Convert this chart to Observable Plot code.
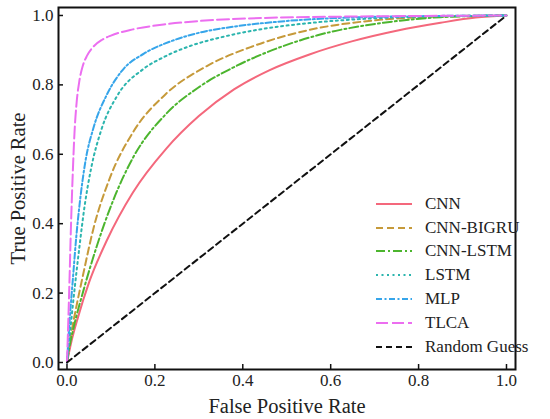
<!DOCTYPE html>
<html>
<head>
<meta charset="utf-8">
<script src="https://cdn.jsdelivr.net/npm/d3@7"></script>
<script src="https://cdn.jsdelivr.net/npm/@observablehq/plot@0.6"></script>
<style>
  html, body { margin: 0; padding: 0; background: #fff; }
  #wrap { position: relative; width: 550px; height: 419px; font-family: "Liberation Serif", "Times New Roman", serif; }
  #wrap svg, #wrap svg text { font-family: "Liberation Serif", "Times New Roman", serif !important; }
  #legend { position: absolute; left: 376px; top: 192px; width: 172px; font-size: 17px; color: #222; white-space: nowrap; }
  #legend .row { display: flex; align-items: center; height: 23.8px; }
  #legend svg { width: 37px; height: 10px; margin-right: 12px; flex: none; }
</style>
</head>
<body>
<div id="wrap"><div id="legend"></div></div>
<script>
// ---- Data ----
const seriesNames = ["CNN", "CNN-BIGRU", "CNN-LSTM", "LSTM", "MLP", "TLCA", "Random Guess"];

const cnnFpr = [0, 0.01, 0.025, 0.05, 0.09, 0.15, 0.225, 0.30, 0.38, 0.46, 0.55, 0.65, 0.75, 0.85, 0.93, 1];
const cnnTpr = [0, 0.06, 0.13, 0.23, 0.35, 0.49, 0.615, 0.71, 0.787, 0.842, 0.887, 0.926, 0.956, 0.979, 0.994, 1];

const bigruFpr = [0, 0.005, 0.012, 0.022, 0.037, 0.06, 0.097, 0.151, 0.226, 0.315, 0.42, 0.55, 0.7, 0.85, 1];
const bigruTpr = [0, 0.05, 0.10, 0.165, 0.255, 0.385, 0.53, 0.665, 0.775, 0.852, 0.91, 0.958, 0.986, 0.997, 1];

const cnnLstmFpr = [0, 0.005, 0.015, 0.038, 0.067, 0.105, 0.151, 0.226, 0.302, 0.386, 0.467, 0.57, 0.72, 0.85, 1];
const cnnLstmTpr = [0, 0.04, 0.10, 0.21, 0.332, 0.467, 0.592, 0.717, 0.795, 0.855, 0.9, 0.943, 0.979, 0.995, 1];

const lstmFpr = [0, 0.008, 0.018, 0.028, 0.04, 0.055, 0.078, 0.115, 0.173, 0.22, 0.28, 0.35, 0.43, 0.55, 0.7, 0.85, 1];
const lstmTpr = [0, 0.10, 0.22, 0.33, 0.45, 0.56, 0.67, 0.77, 0.845, 0.88, 0.912, 0.937, 0.958, 0.978, 0.992, 0.998, 1];

const mlpFpr = [0, 0.006, 0.014, 0.021, 0.03, 0.042, 0.06, 0.09, 0.128, 0.175, 0.235, 0.3, 0.38, 0.48, 0.6, 0.8, 1];
const mlpTpr = [0, 0.12, 0.25, 0.36, 0.47, 0.58, 0.675, 0.77, 0.845, 0.89, 0.925, 0.95, 0.968, 0.982, 0.992, 0.998, 1];

const tlcaFpr = [0, 0.003, 0.006, 0.009, 0.013, 0.017, 0.022, 0.028, 0.036, 0.046, 0.06, 0.08, 0.1, 0.15, 0.22, 0.3, 0.45, 0.65, 0.85, 1];
const tlcaTpr = [0, 0.12, 0.25, 0.39, 0.54, 0.66, 0.75, 0.81, 0.855, 0.885, 0.91, 0.93, 0.942, 0.96, 0.974, 0.984, 0.993, 0.997, 0.999, 1];

const randomFpr = [0, 1];
const randomTpr = [0, 1];

const xTicks = [0, 0.2, 0.4, 0.6, 0.8, 1.0];
const yTicks = [0, 0.2, 0.4, 0.6, 0.8, 1.0];

// ---- Styles ----
const styles = {
  "CNN":          {color: "#f4687c", dash: null},
  "CNN-BIGRU":    {color: "#c69a3a", dash: "7,4"},
  "CNN-LSTM":     {color: "#4cb52e", dash: "9,3,2,3"},
  "LSTM":         {color: "#2cb5ae", dash: "2,3.5"},
  "MLP":          {color: "#36a5ea", dash: "6,2.5,2,2.5"},
  "TLCA":         {color: "#ec6ef0", dash: "12,4"},
  "Random Guess": {color: "#111111", dash: "6,4"}
};

const pairs = [
  ["CNN", cnnFpr, cnnTpr],
  ["CNN-BIGRU", bigruFpr, bigruTpr],
  ["CNN-LSTM", cnnLstmFpr, cnnLstmTpr],
  ["LSTM", lstmFpr, lstmTpr],
  ["MLP", mlpFpr, mlpTpr],
  ["TLCA", tlcaFpr, tlcaTpr],
  ["Random Guess", randomFpr, randomTpr]
];

const lineMarks = pairs.map(([name, xs, ys]) => {
  const rows = xs.map((x, i) => ({x, y: ys[i]}));
  const s = styles[name];
  return Plot.line(rows, {
    x: "x", y: "y",
    stroke: s.color, strokeWidth: 2,
    strokeDasharray: s.dash || undefined,
    curve: name === "Random Guess" ? "linear" : "monotone-x"
  });
});

const serif = '"Liberation Serif", "Times New Roman", serif';

const chart = Plot.plot({
  width: 550,
  height: 419,
  marginLeft: 58,
  marginRight: 35,
  marginTop: 7,
  marginBottom: 50,
  style: {fontFamily: serif, color: "#222", background: "#fff"},
  x: {domain: [-0.0193, 1.0205]},
  y: {domain: [-0.0202, 1.023]},
  marks: [
    ...lineMarks,
    // inward ticks
    Plot.axisX(xTicks, {anchor: "bottom", tickSize: 5, dy: -5, tickFormat: () => "", label: null, strokeWidth: 1.5, stroke: "#111"}),
    Plot.axisY(yTicks, {anchor: "left", tickSize: 5, dx: 5, tickFormat: () => "", label: null, strokeWidth: 1.5, stroke: "#111"}),
    // tick labels
    Plot.axisX(xTicks, {anchor: "bottom", tickSize: 0, tickPadding: 4, tickFormat: d3.format(".1f"), label: null, fontSize: 17, fill: "#222", fontFamily: serif}),
    Plot.axisY(yTicks, {anchor: "left", tickSize: 0, tickPadding: 5, tickFormat: d3.format(".1f"), label: null, fontSize: 17, fill: "#222", fontFamily: serif}),
    // axis titles
    Plot.text(["False Positive Rate"], {frameAnchor: "bottom", dy: 37, lineAnchor: "middle", textAnchor: "middle", fontSize: 20.5, fill: "#222", fontFamily: serif}),
    Plot.text(["True Positive Rate"], {frameAnchor: "left", dx: -40, rotate: -90, lineAnchor: "middle", textAnchor: "middle", fontSize: 20.5, fill: "#222", fontFamily: serif}),
    Plot.frame({stroke: "#111", strokeWidth: 2})
  ]
});

document.getElementById("wrap").prepend(chart);

// ---- Legend ----
const legend = document.getElementById("legend");
seriesNames.forEach(name => {
  const s = styles[name];
  const row = document.createElement("div");
  row.className = "row";
  row.innerHTML = `<svg viewBox="0 0 37 10"><line x1="0" y1="5" x2="36" y2="5" stroke="${s.color}" stroke-width="2" ${s.dash ? `stroke-dasharray="${s.dash}"` : ""}/></svg><span>${name}</span>`;
  legend.appendChild(row);
});
</script>
</body>
</html>
